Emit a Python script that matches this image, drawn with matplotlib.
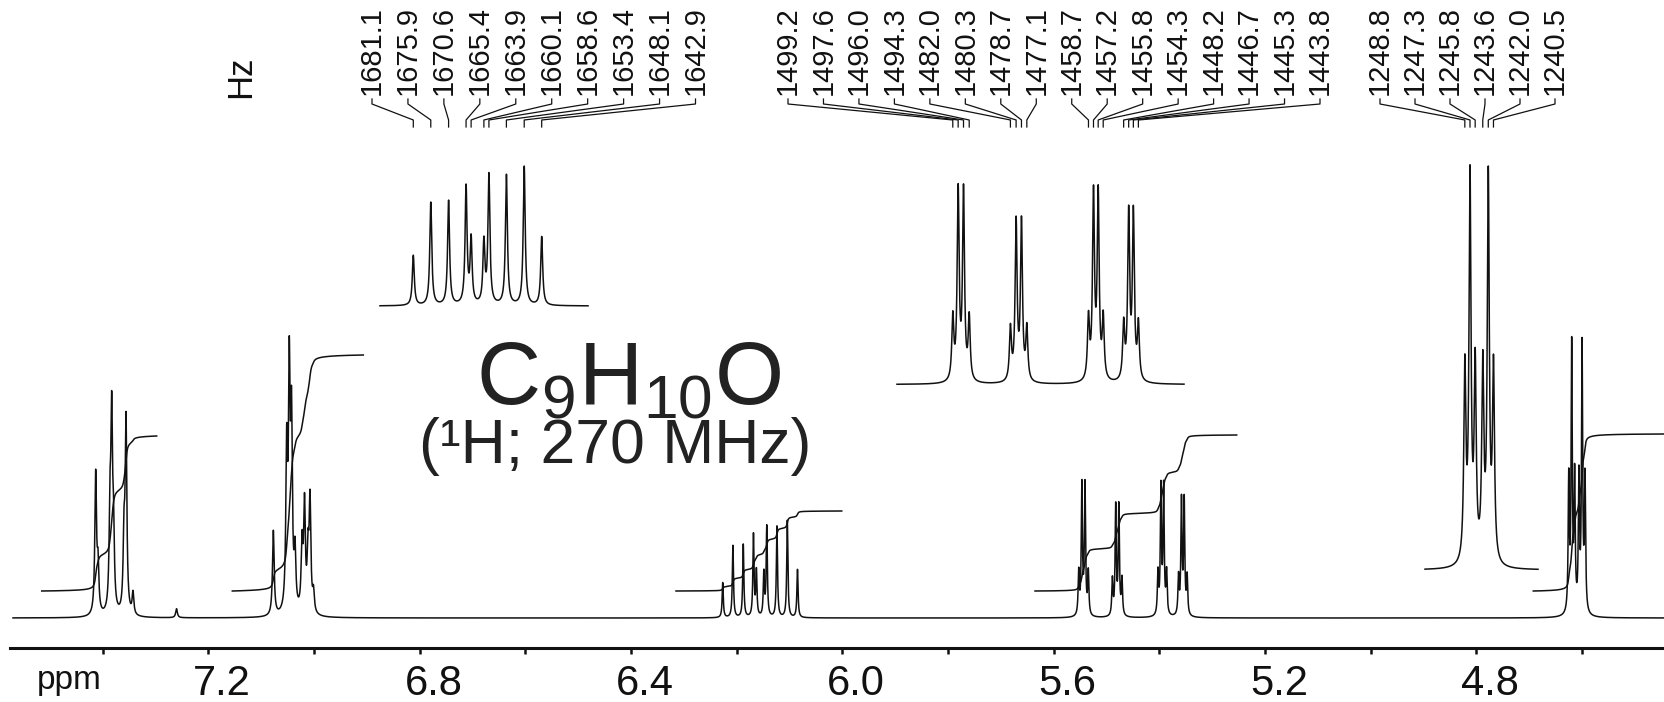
import numpy as np
import matplotlib
matplotlib.use("Agg")
import matplotlib.pyplot as plt
from matplotlib.ticker import FixedLocator, NullFormatter
from matplotlib.transforms import ScaledTranslation

plt.rcParams["font.family"] = ["Liberation Sans", "DejaVu Sans"]

W, H, DPI = 1665, 702, 100
SF = 270.0  # spectrometer frequency, MHz

# ---------------------------------------------------------------- line lists
# aromatic multiplets (ppm, intensity)
arom_a_ppm = [7.4130, 7.4086, 7.3859, 7.3827, 7.3793, 7.3594, 7.3556, 7.3424]
arom_a_int = [140, 45, 90, 185, 70, 70, 190, 22]
arom_b_ppm = [7.0768, 7.0515, 7.0466, 7.0424, 7.0358, 7.0225, 7.0178,
              7.0112, 7.0074, 7.0008]
arom_b_int = [85, 155, 228, 180, 55, 65, 105, 55, 110, 20]
chcl3_ppm = [7.26]
chcl3_int = [9]

# resolved olefinic / OCH2 lines, positions in Hz at 270 MHz
ch_hz = [1681.1, 1675.9, 1670.6, 1665.4, 1663.9, 1660.1, 1658.6, 1653.4,
         1648.1, 1642.9]
ch_int = [35, 72, 73, 82, 45, 43, 90, 91, 97, 48]
ch2_hz = [1499.2, 1497.6, 1496.0, 1494.3, 1482.0, 1480.3, 1478.7, 1477.1,
          1458.7, 1457.2, 1455.8, 1454.3, 1448.2, 1446.7, 1445.3, 1443.8]
ch2_int = [43, 130, 130, 43, 36, 109, 109, 36, 42, 127, 127, 42,
           38, 114, 114, 38]
och2_hz = [1248.8, 1247.3, 1245.8, 1243.6, 1242.0, 1240.5]
och2_int = [133, 265, 133, 133, 265, 133]

# integral traces: (start ppm, end ppm, step height)
integ_start = [7.5151, 7.1544, 6.3147, 5.6353, 4.6923]
integ_end = [7.2975, 6.9065, 6.0011, 5.2536, 4.4430]
integ_rise = [155, 236, 80, 156, 157]
integ_offset = 27

major_ticks = [7.2, 6.8, 6.4, 6.0, 5.6, 5.2, 4.8]
minor_ticks = [7.4, 7.0, 6.6, 6.2, 5.8, 5.4, 5.0, 4.6]

# ---------------------------------------------------------------- spectrum
G_AROM = 0.0019   # half width, ppm
G_SHARP = 0.35 / SF

pos = np.concatenate([arom_a_ppm, arom_b_ppm, chcl3_ppm,
                      np.array(ch_hz) / SF, np.array(ch2_hz) / SF,
                      np.array(och2_hz) / SF])
amp = np.concatenate([arom_a_int, arom_b_int, chcl3_int, ch_int, ch2_int,
                      och2_int]).astype(float)
gam = np.concatenate([np.full(len(arom_a_ppm) + len(arom_b_ppm) + 1, G_AROM),
                      np.full(len(ch_hz) + len(ch2_hz) + len(och2_hz),
                              G_SHARP)])


def spectrum(x):
    x = np.asarray(x)[:, None]
    return (amp * gam**2 / ((x - pos) ** 2 + gam**2)).sum(axis=1)


PX_PER_PPM = 528.4
X6 = 842.3  # pixel column of 6.0 ppm


def ppm_at(px):
    return 6.0 + (X6 - px) / PX_PER_PPM


fig = plt.figure(figsize=(W / DPI, H / DPI), dpi=DPI)
fig.patch.set_facecolor("white")


def px_axes(x0, x1, ytop, ybot):
    return fig.add_axes([x0 / W, 1 - ybot / H, (x1 - x0) / W, (ybot - ytop) / H])


INK = "#111111"
LW = 1.1

# main trace, y in pixel units, baseline at row 618, axis line at row 648
ax = px_axes(10, W, 0, 648)
ax.set_xlim(ppm_at(10), ppm_at(W))
ax.set_ylim(-30, 618)
ax.patch.set_alpha(0)
for s in ("top", "left", "right"):
    ax.spines[s].set_visible(False)
ax.spines["bottom"].set_linewidth(2.2)
ax.spines["bottom"].set_color(INK)
ax.set_yticks([])
ax.xaxis.set_major_locator(FixedLocator(major_ticks))
ax.xaxis.set_minor_locator(FixedLocator(minor_ticks))
ax.xaxis.set_major_formatter(NullFormatter())
ax.tick_params(axis="x", which="both", direction="out", length=4,
               width=1.8, color=INK)

# scale numbers sit a little to the right of their ticks
lab_shift = ScaledTranslation(14 / DPI, 0, fig.dpi_scale_trans)
for t in major_ticks:
    ax.text(t, -66, f"{t:.1f}", fontsize=30, color=INK, ha="center",
            va="center", transform=ax.transData + lab_shift)

xs = np.linspace(ppm_at(13), ppm_at(W), 60000)
ys = spectrum(xs)
ax.plot(xs, ys, color=INK, lw=LW, clip_on=False)

# integral traces
for a, b, r in zip(integ_start, integ_end, integ_rise):
    xi = np.linspace(a, b, 8000)
    yi = spectrum(xi)
    c = np.cumsum(yi)
    k = np.exp(-0.5 * (np.arange(-60, 61) / 22.0) ** 2)
    k /= k.sum()
    cp = np.concatenate([np.full(60, c[0]), c, np.full(60, c[-1])])
    c = np.convolve(cp, k, mode="valid")
    c = (c - c[0]) / (c[-1] - c[0])
    ax.plot(xi, integ_offset + r * c, color=INK, lw=LW, clip_on=False)

ax.text(ppm_at(37), -62, "ppm", fontsize=24, color=INK, ha="left",
        va="center")

# expanded insets: (Hz ref, pixel of ref, px per Hz, x0, x1, baseline row, y scale)
insets = [
    (1681.1, 413.3, 3.361, 380, 588, 306, 1.43),
    (1496.75, 961.0, 3.35, 897, 1184, 384.5, 1.45),
    (1247.3, 1470.0, 3.45, 1425, 1538, 570, 1.44),
]
inset_axes = []
for hz0, p0, s, x0, x1, yb, ysc in insets:
    iax = px_axes(x0, x1, 0, yb + 5)
    lo = (hz0 - (x0 - p0) / s) / SF
    hi = (hz0 - (x1 - p0) / s) / SF
    iax.set_xlim(lo, hi)
    iax.set_ylim(-5, yb)
    iax.axis("off")
    xx = np.linspace(lo, hi, 12000)
    iax.plot(xx, ysc * spectrum(xx), color=INK, lw=LW, clip_on=False)
    inset_axes.append(iax)

# overlay in pixel coordinates for annotations
ov = fig.add_axes([0, 0, 1, 1])
ov.set_xlim(0, W)
ov.set_ylim(H, 0)
ov.axis("off")
ov.patch.set_alpha(0)


def to_ov(axx, ppm):
    d = axx.transData.transform((ppm, 0))
    return ov.transData.inverted().transform(d)[0]


label_groups = [
    (ch_hz, inset_axes[0], np.linspace(372, 695.5, len(ch_hz))),
    (ch2_hz, inset_axes[1], np.linspace(788, 1320, len(ch2_hz))),
    (och2_hz, inset_axes[2], np.linspace(1380, 1555, len(och2_hz))),
]
for hz_list, iax, xl in label_groups:
    for hz, x_lab in zip(hz_list, xl):
        xt = to_ov(iax, hz / SF)
        ov.text(x_lab, 95, f"{hz:.1f}", rotation=90, ha="center",
                va="bottom", fontsize=21, color=INK)
        ov.plot([x_lab, x_lab, xt, xt], [99, 104, 120, 127], color=INK,
                lw=0.9)

ov.text(241, 77, "Hz", rotation=90, ha="center", va="center", fontsize=25,
        color=INK)

ov.text(629, 381, r"C$_\mathregular{9}$H$_\mathregular{10}$O", fontsize=64,
        ha="center", va="center", color="#222222")
ov.text(615, 447, "(\u00b9H; 270 MHz)", fontsize=45, ha="center",
        va="center", color="#222222")

fig.savefig("out.png", dpi=DPI, facecolor="white")
